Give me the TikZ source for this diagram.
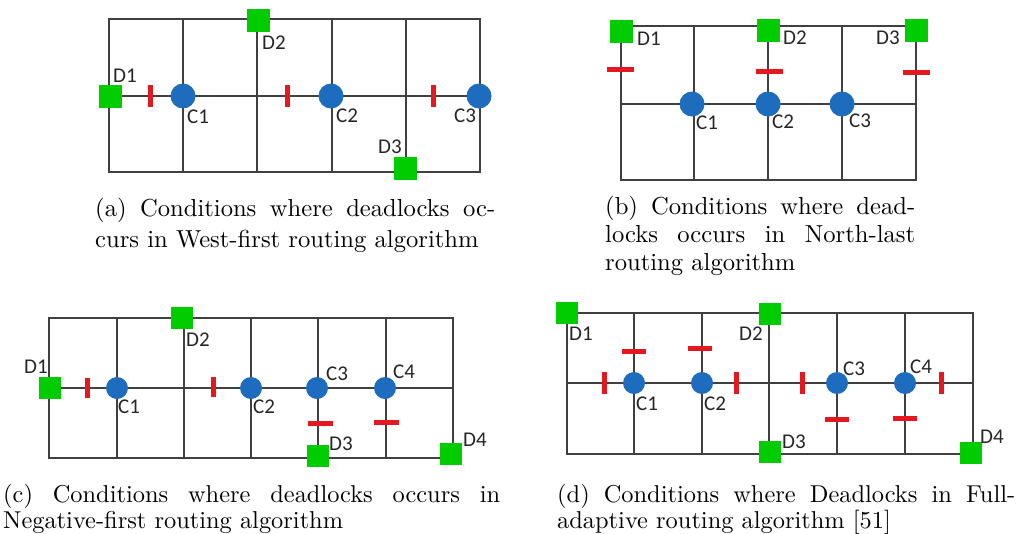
\documentclass[tikz,border=0pt]{standalone}
\usepackage{fontspec}
\newfontfamily\lblfont{Carlito}
\newfontfamily\capfont[Extension=.otf]{lmroman10-regular}
\definecolor{gridgray}{RGB}{64,64,64}
\definecolor{dgreen}{RGB}{0,204,0}
\definecolor{cblue}{RGB}{30,108,190}
\definecolor{bred}{RGB}{228,24,30}
\tikzset{
  gridline/.style={draw=gridgray, line width=1.8pt},
  dest/.style={rectangle, fill=dgreen, inner sep=0pt, minimum size=#1},
  dest/.default=23pt,
  core/.style={circle, fill=cblue, inner sep=0pt, minimum size=#1},
  core/.default=25pt,
  lbl/.style={inner sep=0pt, font=\lblfont\fontsize{21}{21}\selectfont, text=black!85},
  vbar/.style={rectangle, fill=bred, inner sep=0pt, minimum width=5pt, minimum height=#1},
  vbar/.default=22pt,
  hbar/.style={rectangle, fill=bred, inner sep=0pt, minimum height=5pt, minimum width=#1},
  hbar/.default=27pt,
  captext/.style={inner sep=0pt, anchor=base west},
}
\begin{document}
\begin{tikzpicture}[x=1pt,y=-1pt]
\useasboundingbox (0,0) rectangle (1016,533);
% ---------- (a) ----------
\draw[gridline] (109,19) rectangle (480,172);
\foreach \x in {183,257,332,406} \draw[gridline] (\x,19) -- (\x,172);
\draw[gridline] (109,96) -- (480,96);
\node[dest] (aD1) at (110,96) {};
\node[dest] (aD2) at (258,20) {};
\node[dest] (aD3) at (405,168) {};
\node[core] (aC1) at (183,96) {};
\node[core] (aC2) at (331,96) {};
\node[core] (aC3) at (479,96) {};
\node[vbar] (aB1) at (150,96) {};
\node[vbar] (aB2) at (287,96) {};
\node[vbar] (aB3) at (433,96) {};
\node[lbl] (aLD1) at (125,76) {D1};
\node[lbl] (aLD2) at (274,43) {D2};
\node[lbl] (aLD3) at (390,147) {D3};
\node[lbl] (aLC1) at (198,117) {C1};
\node[lbl] (aLC2) at (347,116) {C2};
\node[lbl] (aLC3) at (465,116) {C3};
\node[captext] (capa) at (95,216) {\parbox[t]{400pt}{\capfont\fontsize{24.6}{31}\selectfont (a) Conditions where deadlocks oc-\linebreak curs in West-first routing algorithm}};
% ---------- (b) ----------
\draw[gridline] (621,26) rectangle (916,180);
\foreach \x in {694,768,842} \draw[gridline] (\x,26) -- (\x,180);
\draw[gridline] (621,104) -- (916,104);
\node[dest] (bD1) at (621,31) {};
\node[dest] (bD2) at (768,30) {};
\node[dest] (bD3) at (916,30) {};
\node[core] (bC1) at (692,104) {};
\node[core] (bC2) at (768,104) {};
\node[core] (bC3) at (842,104) {};
\node[hbar] (bB1) at (620,69) {};
\node[hbar] (bB2) at (769,71) {};
\node[hbar] (bB3) at (916,72) {};
\node[lbl] (bLD1) at (649,39) {D1};
\node[lbl] (bLD2) at (795,38) {D2};
\node[lbl] (bLD3) at (888,38) {D3};
\node[lbl] (bLC1) at (707,123) {C1};
\node[lbl] (bLC2) at (783,122) {C2};
\node[lbl] (bLC3) at (860,121) {C3};
\node[captext] (capb) at (605,214) {\parbox[t]{310pt}{\capfont\fontsize{24.6}{28}\selectfont (b) Conditions where dead-\linebreak locks occurs in North-last\linebreak routing algorithm}};
% ---------- (c) ----------
\draw[gridline] (49,318) rectangle (453,458);
\foreach \x in {117,184,251,318,386} \draw[gridline] (\x,318) -- (\x,458);
\draw[gridline] (49,388) -- (453,388);
\node[dest=22pt] (cD1) at (50,388) {};
\node[dest=22pt] (cD2) at (182,318) {};
\node[dest=22pt] (cD3) at (318,456) {};
\node[dest=22pt] (cD4) at (451,454) {};
\node[core=22pt] (cC1) at (117,388) {};
\node[core=22pt] (cC2) at (251,388) {};
\node[core=22pt] (cC3) at (317,388) {};
\node[core=22pt] (cC4) at (385,388) {};
\node[vbar=20pt] (cB1) at (87,388) {};
\node[vbar=20pt] (cB2) at (213,387) {};
\node[hbar=25pt] (cB3) at (320,423) {};
\node[hbar=25pt] (cB4) at (386,422) {};
\node[lbl] (cLD1) at (36,367) {D1};
\node[lbl] (cLD2) at (198,340) {D2};
\node[lbl] (cLD3) at (341,444) {D3};
\node[lbl] (cLD4) at (475,440) {D4};
\node[lbl] (cLC1) at (129,407) {C1};
\node[lbl] (cLC2) at (264,407) {C2};
\node[lbl] (cLC3) at (337,374) {C3};
\node[lbl] (cLC4) at (404,372) {C4};
\node[captext] (capc) at (3,502.5) {\parbox[t]{497pt}{\capfont\fontsize{24.4}{26}\selectfont (c) Conditions where deadlocks occurs in\linebreak Negative-first routing algorithm}};
% ---------- (d) ----------
\draw[gridline] (567,313) rectangle (973,454);
\foreach \x in {634,702,769,837,905} \draw[gridline] (\x,313) -- (\x,454);
\draw[gridline] (567,383) -- (973,383);
\node[dest=22pt] (dD1) at (567,313) {};
\node[dest=22pt] (dD2) at (770,314) {};
\node[dest=22pt] (dD3) at (770,452) {};
\node[dest=22pt] (dD4) at (971,453) {};
\node[core=22pt] (dC1) at (634,383) {};
\node[core=22pt] (dC2) at (702,383) {};
\node[core=22pt] (dC3) at (837,383) {};
\node[core=22pt] (dC4) at (905,383) {};
\node[hbar=24pt] (dB1) at (634,351) {};
\node[hbar=24pt] (dB2) at (700,348) {};
\node[hbar=24pt] (dB3) at (837,419) {};
\node[hbar=24pt] (dB4) at (905,418) {};
\node[vbar] (dB5) at (604,383) {};
\node[vbar] (dB6) at (736,383) {};
\node[vbar] (dB7) at (802,383) {};
\node[vbar] (dB8) at (941,383) {};
\node[lbl] (dLD1) at (581,334) {D1};
\node[lbl] (dLD2) at (751,334) {D2};
\node[lbl] (dLD3) at (794,442) {D3};
\node[lbl] (dLD4) at (992,437) {D4};
\node[lbl] (dLC1) at (647,404) {C1};
\node[lbl] (dLC2) at (715,404) {C2};
\node[lbl] (dLC3) at (854,369) {C3};
\node[lbl] (dLC4) at (921,367) {C4};
\node[captext] (capd) at (557,502) {\parbox[t]{458pt}{\capfont\fontsize{24.4}{26}\selectfont (d) Conditions where Deadlocks in Full-\linebreak adaptive routing algorithm [51]}};
\end{tikzpicture}
\end{document}
